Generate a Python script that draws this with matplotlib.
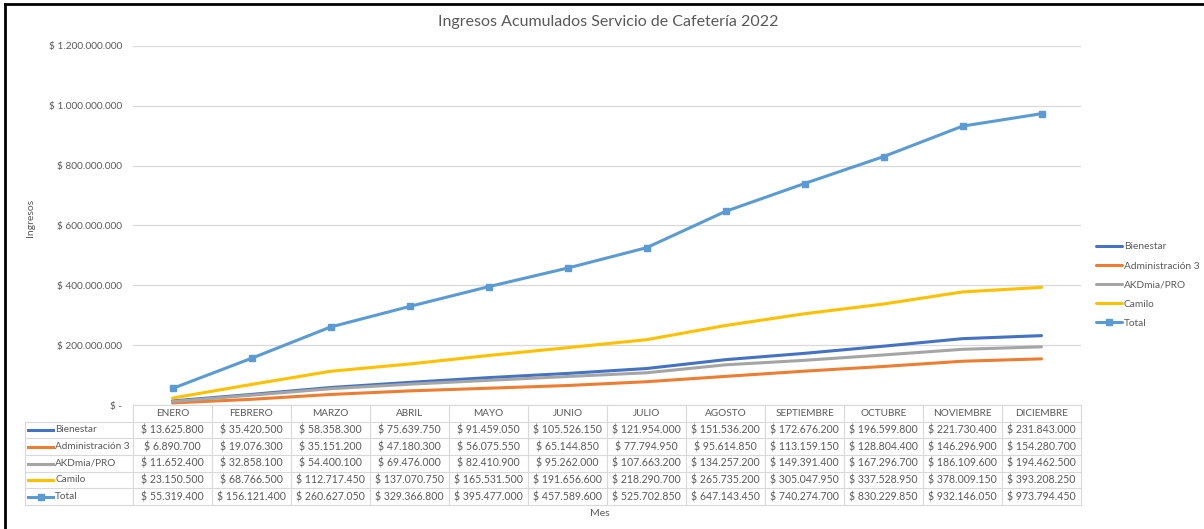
import matplotlib.pyplot as plt
from matplotlib.lines import Line2D
from matplotlib.ticker import FuncFormatter

plt.rcParams['font.family'] = ['Lato', 'DejaVu Sans']

MESES = ['ENERO', 'FEBRERO', 'MARZO', 'ABRIL', 'MAYO', 'JUNIO', 'JULIO',
         'AGOSTO', 'SEPTIEMBRE', 'OCTUBRE', 'NOVIEMBRE', 'DICIEMBRE']

bienestar = [13625800, 35420500, 58358300, 75639750, 91459050, 105526150,
             121954000, 151536200, 172676200, 196599800, 221730400, 231843000]
administracion = [6890700, 19076300, 35151200, 47180300, 56075550, 65144850,
                  77794950, 95614850, 113159150, 128804400, 146296900, 154280700]
akdmia = [11652400, 32858100, 54400100, 69476000, 82410900, 95262000,
          107663200, 134257200, 149391400, 167296700, 186109600, 194462500]
camilo = [23150500, 68766500, 112717450, 137070750, 165531500, 191656600,
          218290700, 265735200, 305047950, 337528950, 378009150, 393208250]
total = [55319400, 156121400, 260627050, 329366800, 395477000, 457589600,
         525702850, 647143450, 740274700, 830229850, 932146050, 973794450]

SERIES = [
    ('Bienestar', bienestar, '#4472C4', None),
    ('Administración 3', administracion, '#ED7D31', None),
    ('AKDmia/PRO', akdmia, '#A5A5A5', None),
    ('Camilo', camilo, '#FFC000', None),
    ('Total', total, '#5B9BD5', 's'),
]

W, H = 1204, 529
TXT = '#595959'
GRID = '#D9D9D9'


def fx(x):
    return x / W


def fy(y):
    return 1 - y / H


def pesos(v):
    if v == 0:
        return '$ -'
    return '$ ' + f'{int(v):,}'.replace(',', '.')


fig = plt.figure(figsize=(W / 100, H / 100), dpi=100)
left, right, top, bottom = 133, 1081, 46, 405
ax = fig.add_axes([fx(left), fy(bottom), fx(right - left), (bottom - top) / H])

x = list(range(len(MESES)))
for name, vals, color, marker in SERIES:
    ax.plot(x, vals, color=color, lw=2.2, marker=marker, markersize=5,
            label=name, solid_capstyle='round')

ax.set_xlim(-0.5, len(MESES) - 0.5)
ax.set_ylim(0, 1200000000)
ax.set_yticks(range(0, 1200000001, 200000000))
ax.yaxis.set_major_formatter(FuncFormatter(lambda v, p: pesos(v)))
ax.tick_params(axis='y', length=0, pad=8, labelsize=7.3, labelcolor=TXT)
ax.set_xticks([])
ax.grid(axis='y', color=GRID, lw=0.9)
ax.set_axisbelow(True)
for s in ax.spines.values():
    s.set_visible(False)

fig.text(fx(608), fy(22), 'Ingresos Acumulados Servicio de Cafetería 2022',
         ha='center', va='center', fontsize=11.5, color=TXT)
fig.text(fx(30), fy(218), 'Ingresos', rotation=90, ha='center', va='center',
         fontsize=7.5, color=TXT)
fig.text(fx(600), fy(514), 'Mes', ha='center', va='center', fontsize=7.5, color=TXT)

# legend on the right
leg = ax.legend(loc='center left', bbox_to_anchor=(fx(1096), fy(285)),
                bbox_transform=fig.transFigure, frameon=False, fontsize=7.3,
                handlelength=2.6, handletextpad=0.15, labelspacing=0.98,
                borderaxespad=0, borderpad=0)
for t in leg.get_texts():
    t.set_color(TXT)

# data table under the chart
tab_left = 25
row_tops = [405, 422, 438, 455, 472, 488, 505]
col_w = (right - left) / len(MESES)


def hline(y, x0, x1):
    fig.add_artist(Line2D([fx(x0), fx(x1)], [fy(y), fy(y)], color=GRID, lw=0.8))


def vline(x0, y0, y1):
    fig.add_artist(Line2D([fx(x0), fx(x0)], [fy(y0), fy(y1)], color=GRID, lw=0.8))


hline(row_tops[0], left, right)
for y in row_tops[1:]:
    hline(y, tab_left, right)
vline(tab_left, row_tops[1], row_tops[-1])
for i in range(len(MESES) + 1):
    vline(left + i * col_w, row_tops[0], row_tops[-1])

yc = (row_tops[0] + row_tops[1]) / 2
for i, m in enumerate(MESES):
    fig.text(fx(left + (i + 0.5) * col_w), fy(yc), m, ha='center', va='center',
             fontsize=7.2, color=TXT)

for r, (name, vals, color, marker) in enumerate(SERIES):
    yc = (row_tops[r + 1] + row_tops[r + 2]) / 2
    fig.add_artist(Line2D([fx(28), fx(53)], [fy(yc), fy(yc)], color=color, lw=2.2))
    if marker:
        fig.add_artist(Line2D([fx(40.5)], [fy(yc)], color=color, marker=marker,
                              markersize=5, lw=0))
    fig.text(fx(55), fy(yc), name, ha='left', va='center', fontsize=7.2, color=TXT)
    for i, v in enumerate(vals):
        fig.text(fx(left + (i + 0.5) * col_w), fy(yc), pesos(v), ha='center',
                 va='center', fontsize=7.6, color=TXT)

# screenshot frame
fig.add_artist(Line2D([fx(5), fx(5)], [fy(4), 0], color='black', lw=2))
fig.add_artist(Line2D([fx(5), 1], [fy(4), fy(4)], color='black', lw=2))

fig.savefig('out.png', dpi=100)
